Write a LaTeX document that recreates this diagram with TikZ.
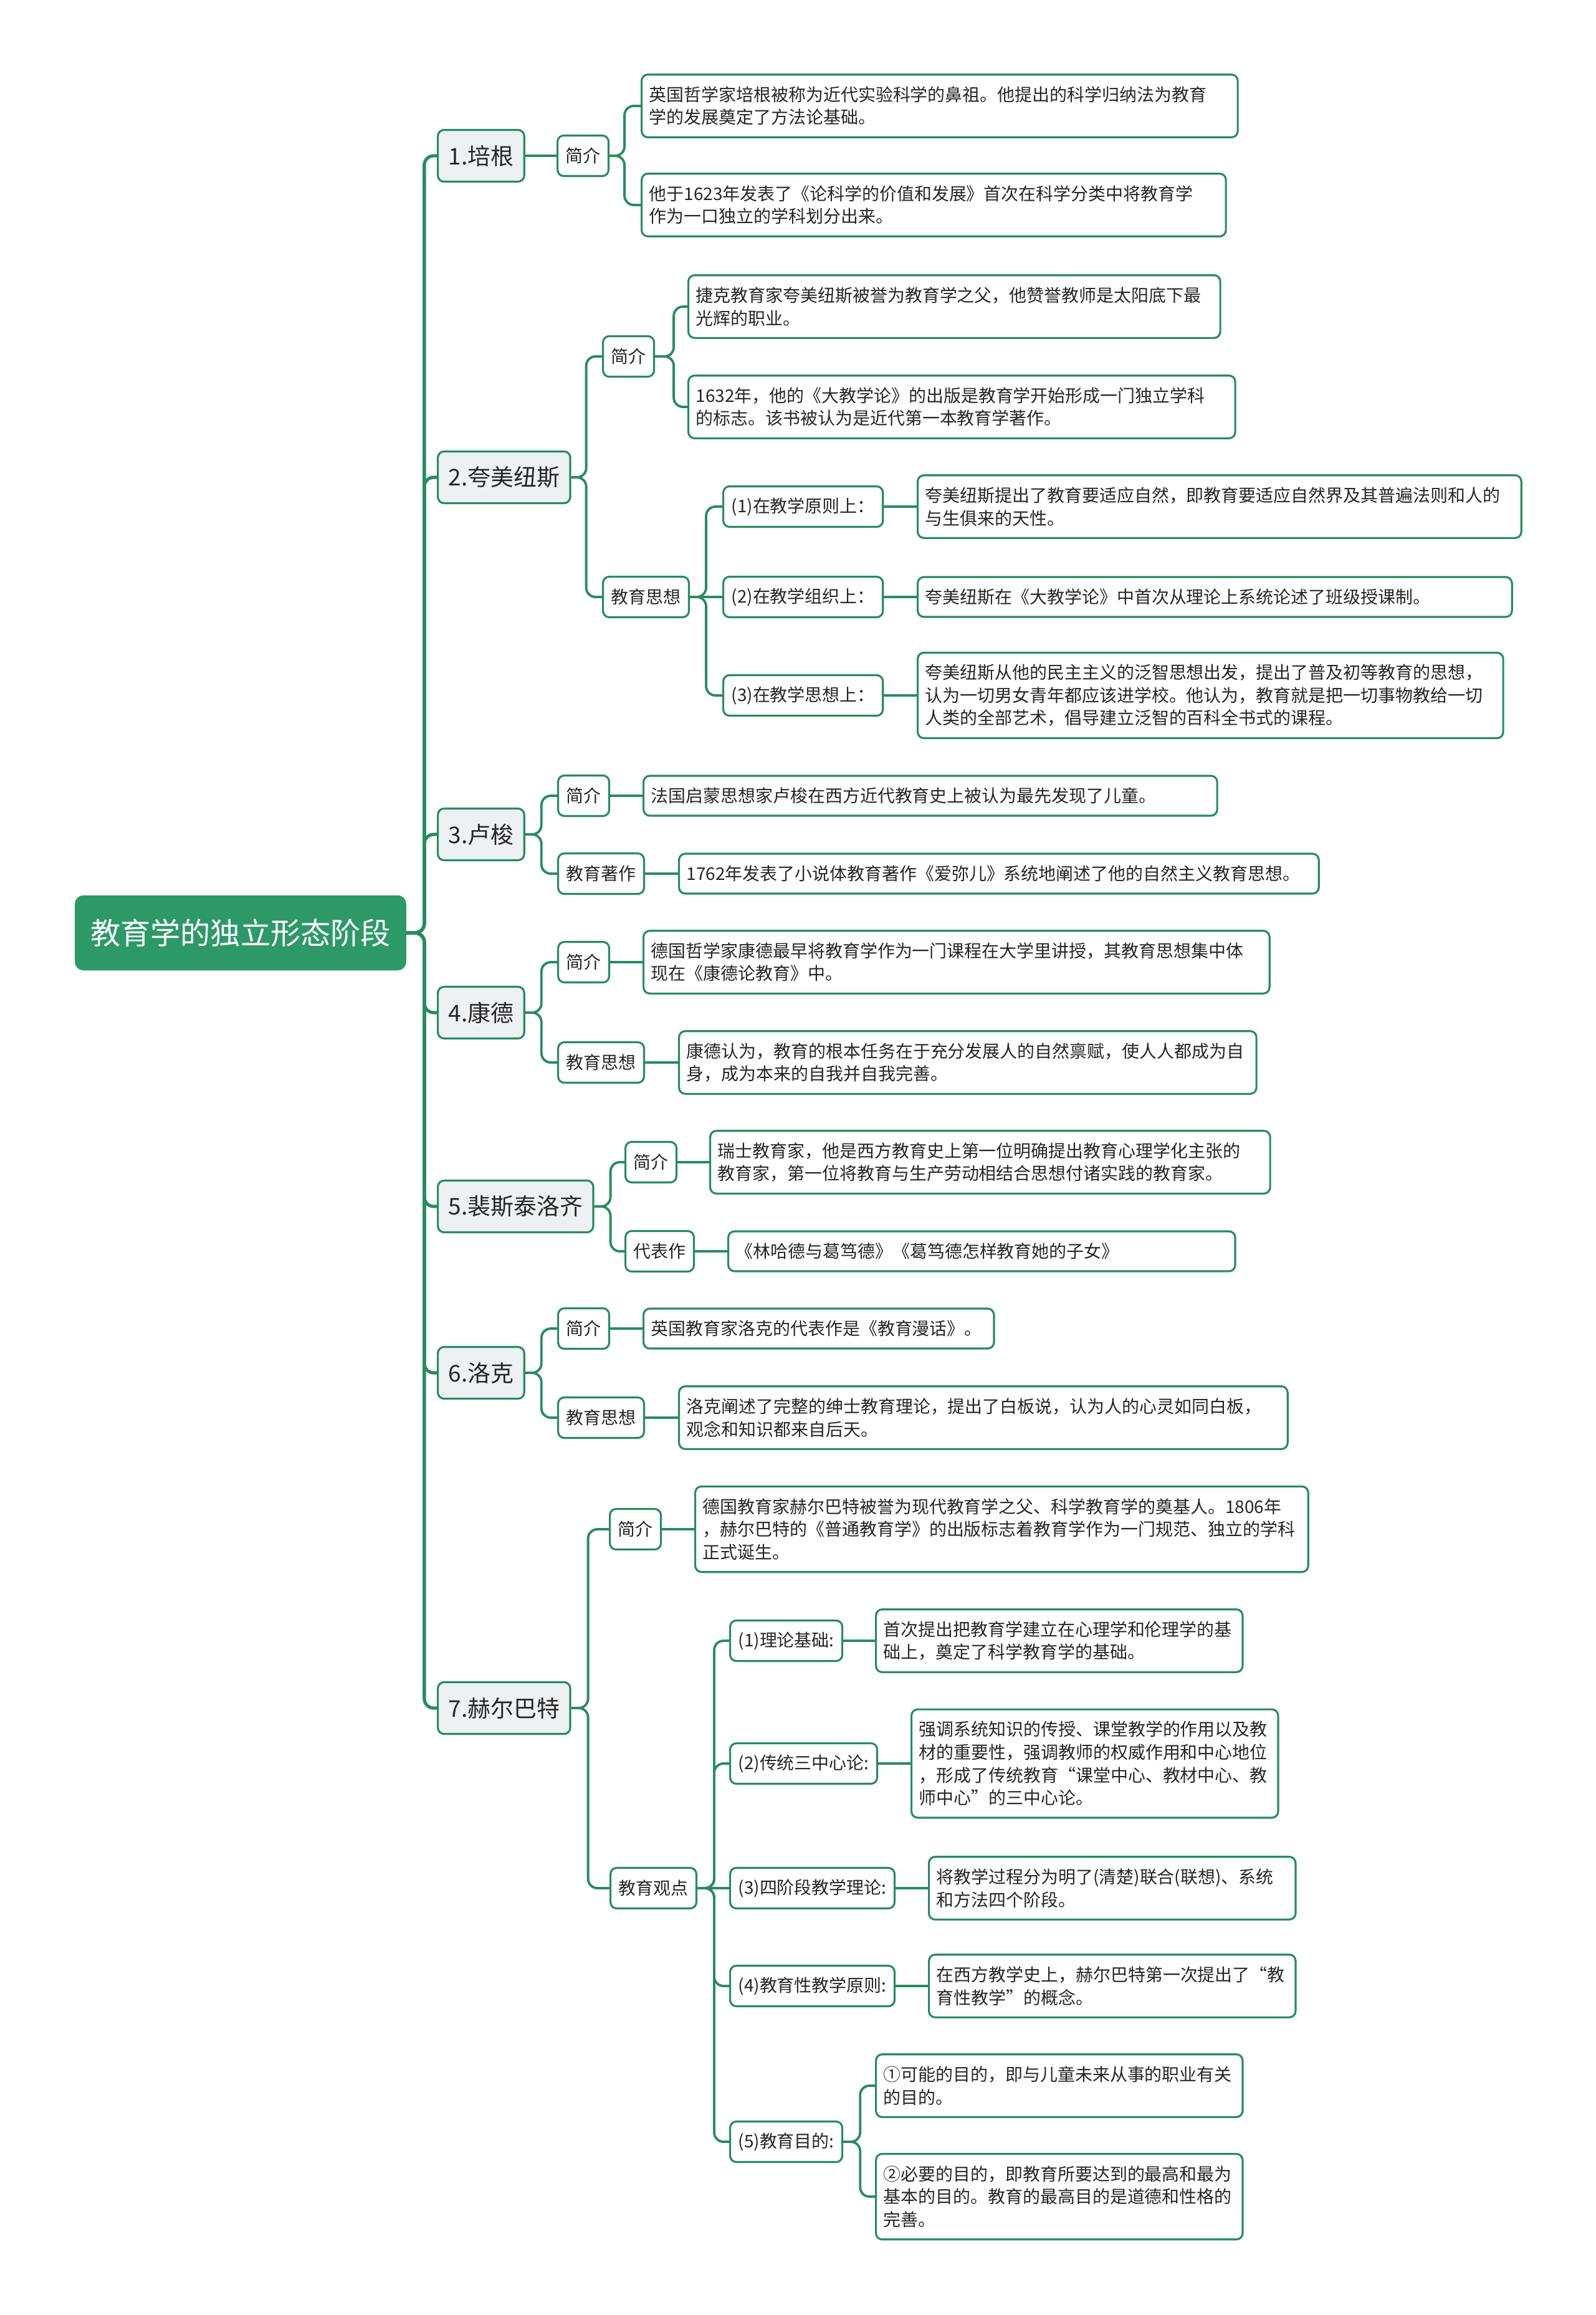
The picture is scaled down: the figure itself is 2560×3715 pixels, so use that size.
\documentclass[tikz,border=0pt]{standalone}
\usepackage{fontspec}
\newfontfamily\cjk{Noto Sans CJK SC}
\usepackage{tikz}
\usetikzlibrary{positioning}
\definecolor{mapgreen}{RGB}{40,140,95}
\definecolor{rootgreen}{RGB}{45,153,104}
\definecolor{topicfill}{RGB}{237,241,244}
\definecolor{inkgray}{RGB}{38,38,38}
\tikzset{
  rootbox/.style={rectangle, rounded corners=1.3mm, fill=rootgreen, draw=rootgreen,
                  text=white, font=\cjk\fontsize{13.7}{16}\selectfont,
                  minimum width=5.3cm, minimum height=1.19cm},
  topic/.style  ={rectangle, rounded corners=1mm, draw=mapgreen, line width=0.9pt,
                  fill=topicfill, text=inkgray, font=\cjk\fontsize{10.5}{12}\selectfont,
                  inner xsep=1.7mm, minimum height=8.3mm, anchor=west},
  sub/.style    ={rectangle, rounded corners=1mm, draw=mapgreen, line width=0.9pt,
                  fill=white, text=inkgray, font=\cjk\fontsize{7.95}{10.4}\selectfont,
                  inner xsep=1.3mm, minimum height=6.5mm, anchor=west},
  leaf/.style   ={sub, align=left, inner xsep=1.2mm, text width=#1},
  nrows/.style  ={minimum height=2.74mm+#1*3.66mm},
  trunk/.style  ={draw=mapgreen, line width=1.5pt, rounded corners=1.5mm},
  link/.style   ={draw=mapgreen, line width=1.1pt, rounded corners=1.5mm},
}
\begin{document}
\begin{tikzpicture}[x=0.01cm, y=-0.01cm]
  \fill[white] (0,0) rectangle (2560,3715);
  \useasboundingbox (0,0) rectangle (2560,3715);

  % centre
  \node[rootbox] (root) at (386,1497) {教育学的独立形态阶段};

  % 1 bacon
  \node[topic] (bacon) at (701,250) {1.培根};
  \node[sub] (baconintro) at (893,250) {简介};
  \node[leaf=9.32cm, nrows=2] (bacon1) at (1028,170)
       {英国哲学家培根被称为近代实验科学的鼻祖。他提出的科学归纳法为教育\\学的发展奠定了方法论基础。};
  \node[leaf=9.13cm, nrows=2] (bacon2) at (1028,329)
       {他于1623年发表了《论科学的价值和发展》首次在科学分类中将教育学\\作为一口独立的学科划分出来。};

  % 2 comenius
  \node[topic] (comenius) at (701,766) {2.夸美纽斯};
  \node[sub] (comintro) at (966,572) {简介};
  \node[leaf=8.29cm, nrows=2] (com1) at (1103,492)
       {捷克教育家夸美纽斯被誉为教育学之父，他赞誉教师是太阳底下最\\光辉的职业。};
  \node[leaf=8.53cm, nrows=2] (com2) at (1103,653)
       {1632年，他的《大教学论》的出版是教育学开始形成一门独立学科\\的标志。该书被认为是近代第一本教育学著作。};
  \node[sub] (comidea) at (966,958) {教育思想};
  \node[sub] (comprin) at (1159,813) {(1)在教学原则上：};
  \node[sub] (comorg) at (1159,958) {(2)在教学组织上：};
  \node[sub] (comthink) at (1159,1116) {(3)在教学思想上：};
  \node[leaf=9.44cm, nrows=2] (com3) at (1471,813)
       {夸美纽斯提出了教育要适应自然，即教育要适应自然界及其普遍法则和人的\\与生俱来的天性。};
  \node[leaf=9.29cm, nrows=1] (com4) at (1471,958)
       {夸美纽斯在《大教学论》中首次从理论上系统论述了班级授课制。};
  \node[leaf=9.15cm, nrows=3] (com5) at (1471,1116)
       {夸美纽斯从他的民主主义的泛智思想出发，提出了普及初等教育的思想，\\认为一切男女青年都应该进学校。他认为，教育就是把一切事物教给一切\\人类的全部艺术，倡导建立泛智的百科全书式的课程。};

  % 3 rousseau
  \node[topic] (rousseau) at (701,1339) {3.卢梭};
  \node[sub] (rouintro) at (894,1277) {简介};
  \node[sub] (rouwork) at (894,1402) {教育著作};
  \node[leaf=8.96cm, nrows=1] (rou1) at (1031,1277)
       {法国启蒙思想家卢梭在西方近代教育史上被认为最先发现了儿童。};
  \node[leaf=10.02cm, nrows=1] (rou2) at (1088,1402)
       {1762年发表了小说体教育著作《爱弥儿》系统地阐述了他的自然主义教育思想。};

  % 4 kant
  \node[topic] (kant) at (701,1625) {4.康德};
  \node[sub] (kantintro) at (894,1544) {简介};
  \node[sub] (kantidea) at (894,1705) {教育思想};
  \node[leaf=9.80cm, nrows=2] (kant1) at (1031,1544)
       {德国哲学家康德最早将教育学作为一门课程在大学里讲授，其教育思想集中体\\现在《康德论教育》中。};
  \node[leaf=9.02cm, nrows=2] (kant2) at (1088,1705)
       {康德认为，教育的根本任务在于充分发展人的自然禀赋，使人人都成为自\\身，成为本来的自我并自我完善。};

  % 5 pestalozzi
  \node[topic] (pest) at (701,1936) {5.裴斯泰洛齐};
  \node[sub] (pestintro) at (1002,1865) {简介};
  \node[sub] (pestwork) at (1002,2008) {代表作};
  \node[leaf=8.74cm, nrows=2] (pest1) at (1138,1865)
       {瑞士教育家，他是西方教育史上第一位明确提出教育心理学化主张的\\教育家，第一位将教育与生产劳动相结合思想付诸实践的教育家。};
  \node[leaf=7.89cm, nrows=1] (pest2) at (1167,2008)
       {《林哈德与葛笃德》《葛笃德怎样教育她的子女》};

  % 6 locke
  \node[topic] (locke) at (701,2203) {6.洛克};
  \node[sub] (lockeintro) at (894,2132) {简介};
  \node[sub] (lockeidea) at (894,2275) {教育思想};
  \node[leaf=5.38cm, nrows=1] (locke1) at (1031,2132)
       {英国教育家洛克的代表作是《教育漫话》。};
  \node[leaf=9.52cm, nrows=2] (locke2) at (1088,2275)
       {洛克阐述了完整的绅士教育理论，提出了白板说，认为人的心灵如同白板，\\观念和知识都来自后天。};

  % 7 herbart
  \node[topic] (herbart) at (701,2741) {7.赫尔巴特};
  \node[sub] (herbintro) at (977,2454) {简介};
  \node[leaf=9.59cm, nrows=3] (herb1) at (1114,2454)
       {德国教育家赫尔巴特被誉为现代教育学之父、科学教育学的奠基人。1806年\\，赫尔巴特的《普通教育学》的出版标志着教育学作为一门规范、独立的学科\\正式诞生。};
  \node[sub] (herbview) at (978,3030) {教育观点};
  \node[sub] (hb1) at (1170,2633) {(1)理论基础:};
  \node[sub] (hb2) at (1170,2830) {(2)传统三中心论:};
  \node[sub] (hb3) at (1170,3030) {(3)四阶段教学理论:};
  \node[sub] (hb4) at (1170,3187) {(4)教育性教学原则:};
  \node[sub] (hb5) at (1170,3437) {(5)教育目的:};
  \node[leaf=5.64cm, nrows=2] (herb2) at (1404,2633)
       {首次提出把教育学建立在心理学和伦理学的基\\础上，奠定了科学教育学的基础。};
  \node[leaf=5.64cm, nrows=4] (herb3) at (1461,2830)
       {强调系统知识的传授、课堂教学的作用以及教\\材的重要性，强调教师的权威作用和中心地位\\，形成了传统教育“课堂中心、教材中心、教\\师中心”的三中心论。};
  \node[leaf=5.64cm, nrows=2] (herb4) at (1489,3030)
       {将教学过程分为明了(清楚)联合(联想)、系统\\和方法四个阶段。};
  \node[leaf=5.64cm, nrows=2] (herb5) at (1489,3187)
       {在西方教学史上，赫尔巴特第一次提出了“教\\育性教学”的概念。};
  \node[leaf=5.64cm, nrows=2] (herb6) at (1404,3347)
       {①可能的目的，即与儿童未来从事的职业有关\\的目的。};
  \node[leaf=5.64cm, nrows=3] (herb7) at (1404,3525)
       {②必要的目的，即教育所要达到的最高和最为\\基本的目的。教育的最高目的是道德和性格的\\完善。};

  % trunk
  \draw[trunk] (root.east) -- ++(29,0) |- (bacon.west);
  \draw[trunk] (root.east) -- ++(29,0) |- (comenius.west);
  \draw[trunk] (root.east) -- ++(29,0) |- (rousseau.west);
  \draw[trunk] (root.east) -- ++(29,0) |- (kant.west);
  \draw[trunk] (root.east) -- ++(29,0) |- (pest.west);
  \draw[trunk] (root.east) -- ++(29,0) |- (locke.west);
  \draw[trunk] (root.east) -- ++(29,0) |- (herbart.west);

  % branches
  \draw[link] (bacon.east) -- (baconintro.west);
  \draw[link] (baconintro.east) -- ++(24,0) |- (bacon1.west);
  \draw[link] (baconintro.east) -- ++(24,0) |- (bacon2.west);

  \draw[link] (comenius.east) -- ++(24,0) |- (comintro.west);
  \draw[link] (comenius.east) -- ++(24,0) |- (comidea.west);
  \draw[link] (comintro.east) -- ++(30,0) |- (com1.west);
  \draw[link] (comintro.east) -- ++(30,0) |- (com2.west);
  \draw[link] (comidea.east) -- ++(26,0) |- (comprin.west);
  \draw[link] (comidea.east) -- (comorg.west);
  \draw[link] (comidea.east) -- ++(26,0) |- (comthink.west);
  \draw[link] (comprin.east) -- (com3.west);
  \draw[link] (comorg.east) -- (com4.west);
  \draw[link] (comthink.east) -- (com5.west);

  \draw[link] (rousseau.east) -- ++(26,0) |- (rouintro.west);
  \draw[link] (rousseau.east) -- ++(26,0) |- (rouwork.west);
  \draw[link] (rouintro.east) -- (rou1.west);
  \draw[link] (rouwork.east) -- (rou2.west);

  \draw[link] (kant.east) -- ++(26,0) |- (kantintro.west);
  \draw[link] (kant.east) -- ++(26,0) |- (kantidea.west);
  \draw[link] (kantintro.east) -- (kant1.west);
  \draw[link] (kantidea.east) -- (kant2.west);

  \draw[link] (pest.east) -- ++(26,0) |- (pestintro.west);
  \draw[link] (pest.east) -- ++(26,0) |- (pestwork.west);
  \draw[link] (pestintro.east) -- (pest1.west);
  \draw[link] (pestwork.east) -- (pest2.west);

  \draw[link] (locke.east) -- ++(26,0) |- (lockeintro.west);
  \draw[link] (locke.east) -- ++(26,0) |- (lockeidea.west);
  \draw[link] (lockeintro.east) -- (locke1.west);
  \draw[link] (lockeidea.east) -- (locke2.west);

  \draw[link] (herbart.east) -- ++(27,0) |- (herbintro.west);
  \draw[link] (herbart.east) -- ++(27,0) |- (herbview.west);
  \draw[link] (herbintro.east) -- (herb1.west);
  \draw[link] (herbview.east) -- ++(27,0) |- (hb1.west);
  \draw[link] (herbview.east) -- ++(27,0) |- (hb2.west);
  \draw[link] (herbview.east) -- (hb3.west);
  \draw[link] (herbview.east) -- ++(27,0) |- (hb4.west);
  \draw[link] (herbview.east) -- ++(27,0) |- (hb5.west);
  \draw[link] (hb1.east) -- (herb2.west);
  \draw[link] (hb2.east) -- (herb3.west);
  \draw[link] (hb3.east) -- (herb4.west);
  \draw[link] (hb4.east) -- (herb5.west);
  \draw[link] (hb5.east) -- ++(27,0) |- (herb6.west);
  \draw[link] (hb5.east) -- ++(27,0) |- (herb7.west);
\end{tikzpicture}
\end{document}
